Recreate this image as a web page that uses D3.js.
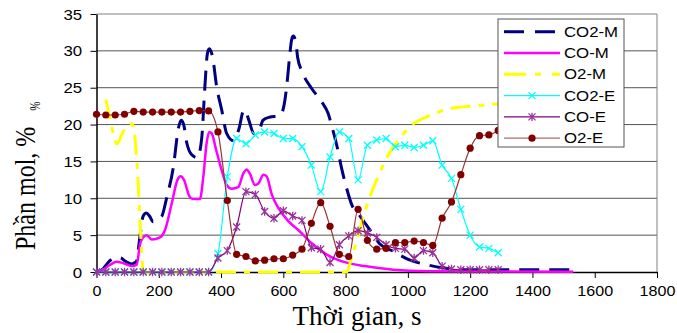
<!DOCTYPE html>
<html><head><meta charset="utf-8">
<script src="https://cdn.jsdelivr.net/npm/d3@7"></script>
<style>body{margin:0;background:#fff}</style>
</head><body><svg id="c" width="677" height="333"></svg>
<script>
// ---- data ----
const xTicks=[0,200,400,600,800,1000,1200,1400,1600,1800];
const yTicks=[0,5,10,15,20,25,30,35];
const seriesNames=["CO2-M","CO-M","O2-M","CO2-E","CO-E","O2-E"];

// experimental series (sampled every 30 s)
const timeE=[0,30,60,90,120,150,180,210,240,270,300,330,360,390,420,450,480,510,540,570,600,630,660,690,720,750,780,810,840,870,900,930,960,990,1020,1050,1080,1110,1140,1170,1200,1230,1260,1290];
const co2E=[0,0,0,0,0,0,0,0,0,0,0,0,0,2.5,12.9,18.1,17.4,18.6,19.0,18.8,18.1,18.1,17.0,14.5,10.9,15.6,19.0,18.1,12.5,17.2,17.9,18.1,17.0,17.2,16.9,17.2,17.8,14.5,12.7,8.5,5.0,3.4,3.2,2.6];
const coE=[0,0,0,0,0,0,0,0,0,0,0,0,0,1.9,2.9,6.1,10.9,10.5,8.2,7.3,8.3,7.6,7.0,3.3,3.1,1.3,3.7,4.9,5.6,5.3,4.7,3.7,3.2,3.1,1.9,2.9,2.6,0.8,0.4,0.3,0.3,0.3,0.3,0.3];
const o2E=[21.4,21.3,21.3,21.4,21.8,21.7,21.7,21.7,21.7,21.7,21.8,21.9,21.85,19.0,9.7,2.4,2.1,1.5,1.6,1.8,1.8,2.3,3.1,6.6,9.4,6.2,2.4,2.1,8.5,4.3,3.1,3.2,4.0,4.0,4.2,4.0,3.6,7.3,9.5,13.2,16.8,18.5,18.6,19.2];

// model series [time, value]
const co2M=[[0,0],[20,0.4],[40,1.4],[60,2.0],[78,1.9],[95,1.4],[113,1.1],[128,1.4],[138,4.3],[150,7.6],[160,8.0],[170,7.6],[182,6.8],[196,7.1],[209,7.5],[225,10.0],[247,14.3],[263,19.5],[272,20.6],[280,20.0],[290,17.5],[306,15.9],[324,15.5],[338,18.2],[348,25.1],[356,29.6],[362,30.3],[368,29.9],[373,29.1],[386,25.1],[402,22.0],[418,18.8],[440,17.8],[458,19.5],[470,21.7],[476,22.0],[490,20.5],[505,18.8],[520,19.0],[535,20.6],[555,21.0],[590,21.2],[605,23.3],[614,26.5],[621,29.6],[627,31.6],[632,32.0],[640,31.2],[646,29.1],[661,27.1],[691,24.9],[723,23.1],[744,21.5],[755,19.9],[771,17.3],[787,14.1],[803,11.4],[820,9.1],[841,7.9],[878,5.7],[910,3.8],[953,2.8],[1007,1.6],[1060,1.0],[1103,0.6],[1146,0.4],[1200,0.3],[1300,0.3],[1531,0.3]];
const coM=[[0,0],[20,0.3],[43,0.95],[65,1.4],[85,1.2],[113,0.8],[129,1.0],[140,3.8],[150,4.7],[161,5.0],[177,4.4],[204,4.7],[220,5.7],[241,9.2],[260,12.5],[270,13.0],[281,12.5],[298,10.3],[309,9.9],[332,9.9],[343,12.9],[354,17.6],[362,19.0],[370,18.8],[384,16.6],[402,13.8],[418,11.8],[434,11.3],[455,11.5],[471,13.3],[482,13.9],[493,13.3],[509,11.8],[520,12.0],[536,13.2],[546,13.0],[563,10.5],[584,8.7],[616,6.9],[648,5.7],[691,3.9],[734,2.5],[777,1.6],[820,1.1],[862,0.8],[953,0.3],[1060,0.1],[1531,0.05]];
const o2M=[[30,23.4],[42,21.0],[54,18.8],[65,17.4],[81,18.6],[97,19.9],[113,20.1],[120,19.5],[127,16.4],[134,11.9],[140,6.5],[145,2.8],[150,0],[803,0],[820,2.1],[836,4.3],[857,7.5],[878,10.2],[905,13.0],[932,15.5],[975,18.2],[1017,20.1],[1071,21.2],[1125,22.1],[1178,22.4],[1232,22.6],[1285,22.8],[1531,23.0]];

// ---- chart ----
const svg=d3.select("#c");
const L=96.5,R=657,T=14,B=272;
const x=d3.scaleLinear().domain([0,1800]).range([L,R]);
const y=d3.scaleLinear().domain([0,35]).range([B,T]);

// gridlines
svg.append("g").selectAll("line").data(yTicks.filter(d=>d>0)).join("line")
  .attr("x1",L).attr("x2",R).attr("y1",d=>y(d)).attr("y2",d=>y(d))
  .attr("stroke",d=>d===35?"#808080":"#555").attr("stroke-width",1);
// right border
svg.append("line").attr("x1",R).attr("x2",R).attr("y1",T).attr("y2",B).attr("stroke","#808080");

// axes
const fmt=d3.format("d");
const xa=svg.append("g").attr("transform",`translate(0,${B})`)
  .call(d3.axisBottom(x).tickValues(xTicks).tickFormat(fmt).tickSize(6).tickSizeOuter(0).tickPadding(8));
const ya=svg.append("g").attr("transform",`translate(${L},0)`)
  .call(d3.axisLeft(y).tickValues(yTicks).tickFormat(fmt).tickSize(6).tickSizeOuter(0).tickPadding(6));
[xa,ya].forEach(g=>{
  g.selectAll("path.domain").attr("stroke","#000").attr("stroke-width",1.5);
  g.selectAll("line").attr("stroke","#000");
  g.selectAll("text").attr("font-family","Liberation Sans, Arial, sans-serif").attr("font-size",14).attr("fill","#000");
});
xa.selectAll("text").attr("transform","scale(1.15,1)");
ya.selectAll("text").attr("transform","scale(1.2,1)").attr("dy","0.36em");

// lines
const lineP=d3.line().x(d=>x(d[0])).y(d=>y(d[1])).curve(d3.curveMonotoneX);
const styles={
  "CO2-M":{c:"#000080",w:3,dash:"20,10"},
  "CO-M":{c:"#ff00ff",w:2.5,dash:null},
  "O2-M":{c:"#ffff00",w:3,dash:"20,8,6,8"},
  "CO2-E":{c:"#00ffff",w:1.2,dash:null},
  "CO-E":{c:"#800080",w:1.2,dash:null},
  "O2-E":{c:"#993333",w:1.2,dash:null}
};
function drawLine(data,name){
  const s=styles[name];
  svg.append("path").datum(data).attr("d",lineP).attr("fill","none")
    .attr("stroke",s.c).attr("stroke-width",s.w).attr("stroke-dasharray",s.dash)
    .attr("stroke-linejoin","round");
}
const xMark="M-3.5,-3.5L3.5,3.5M-3.5,3.5L3.5,-3.5";
const starMark="M-3.5,-3.5L3.5,3.5M-3.5,3.5L3.5,-3.5M0,-4.2L0,4.2";
function drawMarkers(data,name){
  const g=svg.append("g");
  if(name==="O2-E"){
    g.selectAll("circle").data(data).join("circle").attr("cx",d=>x(d[0])).attr("cy",d=>y(d[1]))
      .attr("r",3.6).attr("fill","#800000");
  } else {
    g.selectAll("path").data(data).join("path")
      .attr("transform",d=>`translate(${x(d[0])},${y(d[1])})`)
      .attr("d",name==="CO2-E"?xMark:starMark).attr("fill","none")
      .attr("stroke",name==="CO2-E"?"#00ffff":"#993399").attr("stroke-width",1.3);
  }
}
drawLine(co2M,"CO2-M");
drawLine(coM,"CO-M");
drawLine(o2M,"O2-M");
const eSeries=[["CO2-E",co2E],["CO-E",coE],["O2-E",o2E]];
eSeries.forEach(([n,v])=>{
  const d=timeE.map((t,i)=>[t,v[i]]);
  drawLine(d,n);
  drawMarkers(d,n);
});

// legend
const lg=svg.append("g");
lg.append("rect").attr("x",498).attr("y",19).attr("width",126).attr("height",128)
  .attr("fill","#fff").attr("stroke","#555").attr("stroke-width",1);
seriesNames.forEach((n,i)=>{
  const cy=31.7+i*21.3;
  const s=styles[n];
  lg.append("line").attr("x1",504).attr("x2",560).attr("y1",cy).attr("y2",cy)
    .attr("stroke",n==="O2-E"?"#b06a6a":s.c).attr("stroke-width",s.w)
    .attr("stroke-dasharray",n==="CO2-M"?"20,11":(n==="O2-M"?"22,9,6,11":null));
  if(n==="CO2-E"){
    lg.append("path").attr("transform",`translate(532,${cy})`).attr("d",xMark).attr("fill","none").attr("stroke","#00ffff").attr("stroke-width",1.3);
  } else if(n==="CO-E"){
    lg.append("path").attr("transform",`translate(532,${cy})`).attr("d",starMark).attr("fill","none").attr("stroke","#993399").attr("stroke-width",1.3);
  } else if(n==="O2-E"){
    lg.append("circle").attr("cx",532).attr("cy",cy).attr("r",3.6).attr("fill","#800000");
  }
  lg.append("text").attr("transform",`translate(564,${cy+5}) scale(1.2,1)`)
    .attr("font-family","Liberation Sans, Arial, sans-serif").attr("font-size",14).attr("fill","#000").text(n);
});

// axis titles
svg.append("text").attr("x",357).attr("y",325).attr("text-anchor","middle")
  .attr("font-family","Liberation Serif, Times New Roman, serif").attr("font-size",27).attr("fill","#000")
  .text("Thời gian, s");
const yt=svg.append("text").attr("transform","translate(35,250) scale(1.25,1) rotate(-90)")
  .attr("font-family","Liberation Serif, Times New Roman, serif").attr("font-size",24).attr("fill","#000");
yt.append("tspan").text("Phần mol, %");
yt.append("tspan").attr("dx",16).attr("dy",4).attr("font-size",11).text("%");
</script></body></html>
